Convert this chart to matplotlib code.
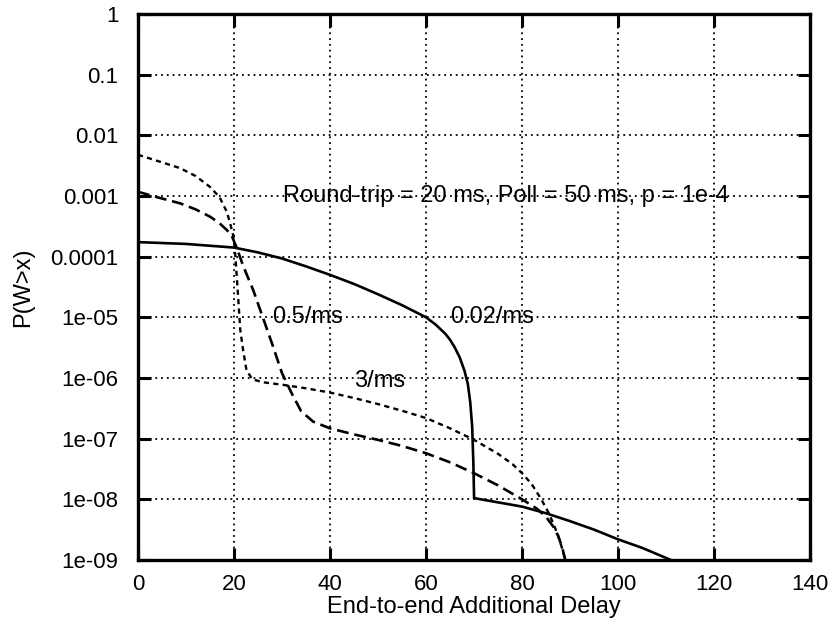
import numpy as np
import matplotlib
matplotlib.use("Agg")
import matplotlib.pyplot as plt
from matplotlib.ticker import FixedLocator, FixedFormatter, NullLocator

plt.rcParams['font.family'] = ['Liberation Sans', 'DejaVu Sans']

# curves, y given as log10(P)
x_slow = [0, 10, 20, 25, 30, 35, 40, 45, 50, 55, 58, 60, 62, 64, 65, 66, 67, 68, 68.7,
          69.2, 69.6, 69.85, 70, 75, 80, 85, 90, 95, 100, 105, 111]
y_slow = [-3.76, -3.79, -3.85, -3.93, -4.03, -4.16, -4.30, -4.45, -4.62, -4.80, -4.92,
          -5.0, -5.12, -5.27, -5.37, -5.50, -5.66, -5.88, -6.1, -6.4, -6.8, -7.4, -7.98,
          -8.05, -8.12, -8.23, -8.36, -8.50, -8.66, -8.80, -9.0]

x_mid = [0, 4, 8.75, 12, 15, 17, 18.5, 19.5, 20.5, 22, 24, 26, 28, 30, 32, 34, 36.5, 40,
         45, 50, 55, 60, 65, 70, 75, 80, 83, 85, 86.5, 87.5, 88.3, 89]
y_mid = [-2.93, -3.02, -3.12, -3.22, -3.34, -3.45, -3.56, -3.65, -3.84, -4.17, -4.55,
         -5.0, -5.45, -5.92, -6.25, -6.55, -6.72, -6.83, -6.93, -7.02, -7.12, -7.24,
         -7.39, -7.57, -7.77, -8.0, -8.15, -8.29, -8.45, -8.6, -8.78, -9.0]

x_fast = [0, 4, 8.75, 12, 15, 17, 18.5, 19.2, 19.9, 20.3, 20.9, 21.3, 21.9, 22.6, 23.8,
          26, 30, 35, 40, 45, 50, 55, 60, 65, 70, 75, 78, 80, 82, 84, 85.5, 86.5, 87.5,
          88.3, 89]
y_fast = [-2.32, -2.42, -2.54, -2.67, -2.85, -3.02, -3.26, -3.45, -3.67, -4.0, -4.71,
          -5.2, -5.54, -5.87, -6.02, -6.07, -6.11, -6.17, -6.24, -6.33, -6.43, -6.54,
          -6.66, -6.83, -7.02, -7.25, -7.42, -7.57, -7.75, -8.0, -8.22, -8.4, -8.6,
          -8.8, -9.0]

x_ticks = [0, 20, 40, 60, 80, 100, 120, 140]
y_ticks = [1, 0.1, 0.01, 0.001, 0.0001, 1e-5, 1e-6, 1e-7, 1e-8, 1e-9]
y_labels = ['1', '0.1', '0.01', '0.001', '0.0001', '1e-05', '1e-06', '1e-07', '1e-08', '1e-09']

fig = plt.figure(figsize=(8.31, 6.25), dpi=100)
ax = fig.add_axes([0.166, 0.104, 0.809, 0.8736])

ax.plot(x_slow, 10 ** np.array(y_slow), color='black', lw=1.9, solid_capstyle='butt')
ax.plot(x_mid, 10 ** np.array(y_mid), color='black', lw=1.9, linestyle=(0, (4.5, 2.2)))
ax.plot(x_fast, 10 ** np.array(y_fast), color='black', lw=1.7, linestyle=(0, (2.2, 1.8)))

ax.set_yscale('log')
ax.set_xlim(0, 140)
ax.set_ylim(1e-9, 1)
ax.xaxis.set_major_locator(FixedLocator(x_ticks))
ax.yaxis.set_major_locator(FixedLocator(y_ticks))
ax.yaxis.set_major_formatter(FixedFormatter(y_labels))
ax.yaxis.set_minor_locator(NullLocator())

ax.grid(True, color='black', linestyle=(0, (1, 2.2)), linewidth=1.3)
ax.tick_params(direction='in', length=9, width=2.2, top=True, right=True, labelsize=16)
ax.tick_params(axis='x', pad=10)
ax.tick_params(axis='y', pad=14)
for s in ax.spines.values():
    s.set_linewidth(2.4)

ax.set_xlabel('End-to-end Additional Delay', fontsize=17, labelpad=1)
ax.set_ylabel('P(W>x)', fontsize=17, labelpad=12)

ax.text(30.2, 1e-3, 'Round-trip = 20 ms, Poll = 50 ms, p = 1e-4', fontsize=17,
        va='center', ha='left')
ax.text(28, 1e-5, '0.5/ms', fontsize=17, va='center', ha='left')
ax.text(65, 1e-5, '0.02/ms', fontsize=17, va='center', ha='left')
ax.text(45, 9e-7, '3/ms', fontsize=17, va='center', ha='left')

fig.savefig('out.png', dpi=100)
